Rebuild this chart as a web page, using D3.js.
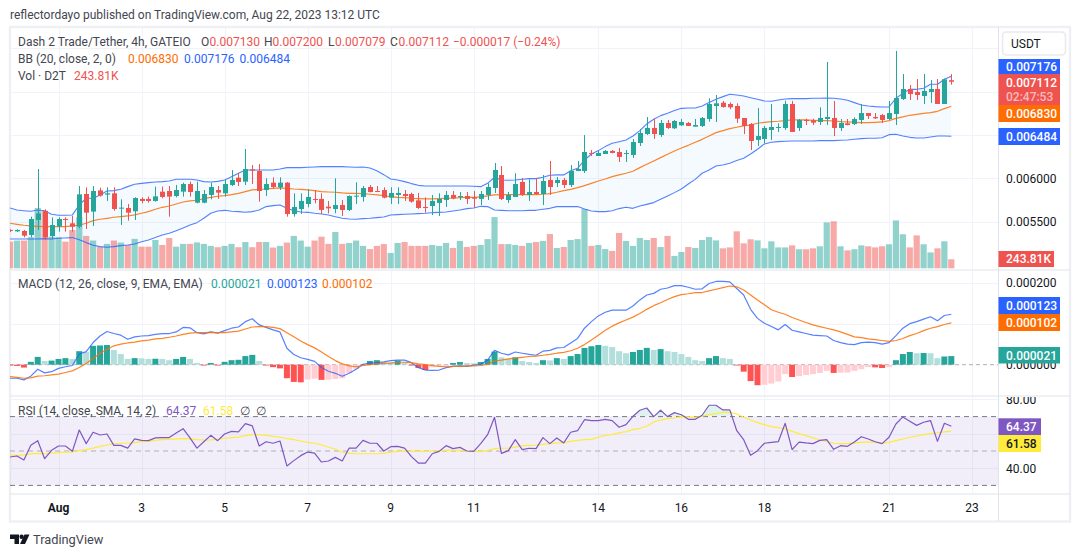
<!DOCTYPE html>
<html><head><meta charset="utf-8">
<script src="https://cdn.jsdelivr.net/npm/d3@7"></script>
<style>html,body{margin:0;padding:0;background:#fff}svg{display:block}text{font-family:Roboto,sans-serif}</style>
</head><body><svg id="c" width="1080" height="557"></svg>
<script>
// All prices / MACD values are in millionths of a USDT. Index 0 = Aug 1 00:00; one bar = 4h.
const firstIndex=-7;
const opens=[5405,5389,5393,5347,5520,5623,5335,5443,5531,5481,5443,5819,5616,5861,5812,5827,5654,5658,5620,5762,5762,5739,5846,5854,5796,5846,5934,5719,5719,5808,5865,5827,5923,6007,5961,6103,6084,5865,5950,5896,5950,5589,5646,5704,5762,5762,5673,5646,5692,5635,5792,5785,5900,5854,5865,5777,5808,5819,5819,5746,5670,5681,5716,5750,5808,5789,5796,5781,5762,5808,5888,6038,5750,5785,5958,5808,5842,5819,5981,5946,5981,5923,6084,6084,6292,6257,6280,6315,6303,6284,6269,6407,6510,6580,6499,6637,6576,6610,6637,6595,6603,6683,6833,6871,6856,6833,6695,6626,6442,6453,6557,6580,6580,6856,6580,6672,6668,6649,6683,6695,6580,6633,6625,6672,6752,6706,6729,6683,6741,6914,7029,6994,6948,6994,7029,6856,7130];
const highs=[5412,5412,5405,5558,6107,5642,5550,5550,5550,5566,5911,5896,5911,5892,5896,5896,5758,5704,5781,5781,5789,5904,5904,5911,5923,5950,5961,5961,5865,5950,5911,5981,6096,6058,6338,6153,6165,6000,6011,6011,5957,5827,5827,5873,5865,5827,5739,6000,5750,5804,5953,5911,5923,5911,5896,5896,5896,5865,5835,5831,5781,5808,5827,5854,5854,5842,5842,5854,5854,5942,6176,6142,5842,6058,6004,5988,6004,6038,6200,6015,6004,6153,6200,6499,6326,6315,6326,6326,6349,6326,6453,6568,6706,6683,6672,6672,6672,6683,6649,6683,6706,6921,6960,6891,6875,6864,6695,6637,6810,6603,6856,6633,6894,6891,6683,6687,6687,6818,7340,6891,6683,6683,6702,6856,6752,6752,6741,6891,7467,7202,7075,7144,7202,7132,7144,7148,7200];
const lows=[5382,5382,5320,5320,5405,5289,5297,5385,5385,5385,5424,5416,5451,5789,5739,5627,5462,5512,5520,5712,5719,5731,5769,5558,5781,5789,5789,5712,5712,5758,5762,5789,5911,5911,5923,5934,5731,5796,5881,5865,5558,5558,5589,5666,5712,5589,5596,5596,5566,5623,5704,5731,5838,5842,5769,5704,5704,5739,5719,5646,5604,5577,5566,5670,5758,5750,5704,5658,5692,5750,5831,5750,5716,5785,5796,5739,5808,5692,5808,5900,5888,5900,6084,6061,6257,6257,6280,6288,6188,6188,6234,6372,6499,6453,6476,6568,6568,6603,6603,6595,6591,6653,6649,6814,6795,6637,6510,6326,6372,6403,6442,6534,6557,6534,6545,6614,6614,6614,6614,6487,6545,6610,6614,6626,6683,6683,6637,6672,6614,6902,6902,6902,6856,6868,6856,6856,7079];
const closes=[5393,5405,5339,5531,5596,5320,5462,5531,5520,5443,5815,5604,5854,5800,5827,5646,5662,5604,5773,5739,5739,5792,5785,5789,5865,5934,5842,5854,5819,5900,5835,5934,5981,5958,6107,6088,5854,5934,5900,5950,5589,5670,5739,5785,5750,5635,5654,5692,5635,5796,5800,5888,5842,5846,5777,5831,5831,5796,5731,5658,5658,5739,5762,5808,5769,5796,5762,5765,5819,5900,6096,5762,5808,5934,5808,5842,5819,5969,5900,5981,5923,6084,6107,6303,6284,6292,6315,6292,6246,6292,6418,6522,6580,6510,6637,6580,6660,6649,6603,6614,6695,6856,6864,6821,6818,6687,6603,6430,6487,6580,6591,6591,6856,6534,6672,6660,6641,6695,6706,6580,6637,6614,6683,6752,6718,6691,6672,6752,6925,7029,6971,6960,7006,7029,6856,7140,7112];
const volumes=[720,750,750,840,1630,1560,855,840,720,1035,1380,875,750,585,660,750,695,630,795,585,585,765,630,820,585,660,660,700,660,605,570,605,660,570,710,570,710,710,560,605,695,875,750,585,750,855,660,980,660,685,750,605,520,605,655,415,685,710,605,605,605,630,605,685,550,740,575,605,630,790,1385,655,655,630,605,685,710,740,925,550,575,765,790,1600,605,630,520,470,955,740,605,820,765,820,575,875,335,440,575,550,765,845,755,540,565,1000,675,785,755,540,730,565,565,620,515,515,540,595,1240,1270,595,485,515,620,595,565,595,650,1295,920,565,890,650,430,540,730,243.81];
const bbUpper=[5658,5635,5627,5620,5635,5627,5585,5574,5574,5578,5693,5770,5770,5808,5854,5858,5873,5904,5931,5942,5950,5958,5962,5969,5989,5989,5989,5981,5962,5958,5965,5981,6019,6058,6096,6096,6096,6096,6096,6108,6123,6123,6123,6127,6131,6134,6134,6134,6134,6131,6127,6131,6119,6088,6042,5992,5981,5962,5939,5919,5912,5912,5912,5912,5912,5912,5912,5908,5904,5942,6012,5981,5977,5981,5989,5996,5996,6012,6035,6039,6039,6088,6115,6211,6280,6319,6365,6403,6422,6442,6488,6549,6626,6680,6722,6749,6780,6806,6810,6810,6833,6872,6910,6941,6968,6960,6949,6929,6910,6891,6887,6902,6914,6918,6918,6918,6922,6922,6925,6922,6914,6899,6872,6845,6833,6826,6822,6822,6922,6979,7025,7025,7037,7083,7083,7141,7176];
const bbBasis=[5482,5470,5459,5451,5447,5443,5443,5443,5443,5451,5459,5482,5512,5528,5539,5551,5558,5566,5578,5597,5616,5643,5666,5681,5704,5727,5739,5747,5766,5781,5793,5800,5812,5827,5846,5866,5873,5877,5885,5889,5885,5877,5873,5866,5858,5846,5842,5839,5831,5827,5827,5823,5816,5808,5800,5789,5781,5777,5770,5766,5762,5762,5766,5770,5770,5777,5781,5781,5785,5797,5808,5812,5812,5812,5812,5812,5812,5816,5823,5839,5858,5873,5893,5916,5942,5969,5992,6019,6039,6058,6081,6123,6161,6200,6238,6277,6315,6349,6380,6415,6449,6488,6526,6549,6572,6588,6603,6614,6634,6645,6653,6657,6664,6672,6672,6672,6668,6664,6664,6660,6653,6649,6645,6641,6641,6645,6649,6664,6691,6707,6726,6737,6749,6757,6772,6803,6830];
const bbLower=[5301,5301,5301,5301,5301,5305,5301,5309,5313,5317,5293,5259,5228,5213,5205,5213,5224,5232,5244,5270,5290,5317,5347,5366,5397,5428,5462,5489,5539,5597,5624,5631,5620,5616,5608,5616,5635,5674,5685,5693,5654,5627,5612,5608,5597,5589,5578,5558,5539,5531,5528,5535,5539,5547,5555,5578,5581,5585,5589,5593,5597,5604,5608,5612,5624,5635,5651,5658,5677,5674,5635,5631,5627,5627,5627,5631,5631,5643,5654,5674,5674,5674,5674,5647,5624,5616,5616,5627,5651,5666,5654,5681,5700,5720,5758,5796,5835,5877,5935,5988,6058,6096,6142,6154,6173,6204,6230,6280,6334,6396,6415,6422,6426,6430,6430,6430,6430,6434,6434,6434,6438,6442,6449,6457,6461,6461,6468,6503,6507,6488,6472,6465,6465,6476,6488,6488,6484];
const macdLine=[-33,-33,-37,-28,-11,-20,-17,-9,-5,-2,26,32,54,70,81,76,72,62,68,70,71,74,76,76,80,91,90,78,75,80,77,83,89,92,105,112,97,91,85,80,40,25,17,13,8,-7,-16,-21,-28,-21,-11,1,4,5,7,10,11,11,5,-7,-13,-14,-13,-7,-4,-3,-4,-1,1,11,35,28,24,31,28,25,23,33,35,41,42,53,64,89,105,119,128,133,133,133,143,158,170,174,184,187,193,193,189,184,185,198,203,203,202,186,170,135,113,101,93,85,98,84,80,76,72,71,70,59,54,50,49,54,55,54,50,54,71,89,100,105,111,117,107,120,123];
const macdSignal=[-29,-31,-33,-32,-28,-27,-25,-23,-19,-15,-7,3,15,28,37,46,50,53,55,58,60,63,64,67,70,74,77,78,78,79,78,78,80,82,87,92,93,93,91,88,78,68,58,49,41,31,20,10,2,-3,-5,-2,0,2,3,4,6,6,5,2,0,-2,-4,-5,-4,-4,-3,-3,-2,1,9,11,14,16,18,20,21,23,25,28,30,34,40,49,60,72,84,94,102,109,116,125,135,144,151,159,166,171,173,176,176,180,184,188,192,190,182,170,158,146,134,128,123,115,109,103,97,93,89,85,80,74,68,66,63,61,59,57,59,64,71,76,83,89,93,98,102];
const macdHist=[-2,-3,-7,7,19,9,10,14,16,14,33,31,46,47,48,36,26,14,16,15.5,14,14.5,14,11,14,19,14,4,-2,4,-2,7,11,12,21,24,9,-2,-6,-9,-33,-42,-43,-36,-34,-37,-36.5,-35,-33,-20,-10,-3,9,11,6.5,6,10,5,-2,-8,-13,-6.5,-5,-3,4,6.5,4,3.5,6.5,14,32,18,14,18,9,6.5,4,11,10.5,16,14,21,26,41,45,48,46,43,33,28,31,36,41,36,38,33,31,26,19,11,9,16,21,16,14,-2,-17,-40,-50,-49,-46,-41,-23,-30,-28,-25,-23,-20,-15,-20,-19.5,-19,-15,-11,-6,-6.5,-8,-6,11,26,31,28,28.5,28,16,20,21];
const rsiLine=[46.5,47.1,44.8,53.3,56,45.5,50.4,52.9,52.9,49.8,62.2,54.3,60.9,59.3,59.9,53.3,53.3,51.7,57,56.2,56,57.6,57.8,57.8,60.5,63,57.6,51.7,55.4,59.1,56,59.9,61.4,61.1,65.9,64.6,52.9,55.4,54.5,55.8,41.3,44.4,47.3,49.4,48.8,43.6,44.2,46.3,44.2,51.7,51.7,56.2,54.5,54.5,50,52.5,52.7,51.7,46.7,43,43,48.4,49.8,53.1,51.4,52.1,50,49.8,54.3,59.5,69.6,48.6,50.2,56.6,50.8,51.6,51.4,57.8,54.3,57.6,54.7,60.9,61.8,68.2,67.7,67.7,68.4,67.7,63.8,65.3,70.2,73.7,75,70,73.7,70,72.3,71.1,68.4,68.4,70.8,76.6,76.6,73.9,73.9,61.8,56.6,47.5,50.2,54.5,55,55.4,66.1,50.8,55.2,54.7,54.3,56.2,56.6,51,53.1,52.7,55.2,58.3,57,55.4,54.3,58,65.7,69.8,67.3,64.9,66.7,67.7,55.6,66.1,64.37];
const rsiAverage=[47.7,47.3,47.7,48.3,48.6,48.4,48.8,49,49.4,49.4,50.2,50.8,51.7,52.7,53.5,54.1,54.5,54.5,54.9,55.4,55.6,56.2,56.6,56.8,57,57.2,57,56.6,56.4,56.4,56.8,57.4,57.8,58.1,58.9,59.5,59.5,59.1,58.5,58,57.2,56.6,55.8,55,54.5,53.5,52.3,51,49.4,48.6,48.4,48.4,48.4,48.4,48.6,49.4,49.8,49.8,49.8,49.8,49.8,50,50.2,50.4,50.4,50.2,50,49.8,49.6,50.2,51.4,51.6,51.6,52.3,53.1,53.3,53.5,53.9,54.3,54.7,54.9,55.6,56.2,56.6,56.8,58,59.1,59.7,60.5,61.3,62.4,63.2,64.4,66.9,68,68.8,69.2,70,69.8,69.6,70.2,71.1,71.7,72.5,72.5,71.5,69.6,68,66.5,65.3,64.2,63.6,62.8,61.4,60.1,58.9,57.6,56.4,55.4,54.5,54.3,54.3,54.7,55,55.2,55.2,54.5,55,56,57,58,58.7,59.5,60.1,60.6,61.1,61.58];
const dateTickIndex=[0,12,24,36,48,60,78,90,102,120,132];
const dateTickLabels=["Aug","3","5","7","9","11","14","16","18","21","23"];
const priceTicks=[5500,6000,7000,6500,7500];
const priceLabels=["0.005500","0.006000"];
const macdTicks=[100,200];
const rsiTicks=[40,60,80];
const legendSymbol="Dash 2 Trade/Tether, 4h, GATEIO";
const headerText="reflectordayo published on TradingView.com, Aug 22, 2023 13:12 UTC";

[highs,lows,closes,volumes,bbUpper,bbBasis,bbLower,macdLine,macdSignal,macdHist,rsiLine,rsiAverage].forEach((a,k)=>{
  if(a.length!==opens.length) throw new Error("length mismatch "+k+": "+a.length+" vs "+opens.length);
});

const UP="#26a69a",DOWN="#ef5350",BLUE="#2962ff",ORANGE="#ff6d00",PURPLE="#7e57c2",YELLOW="#ffeb3b",GRID="#f0f3fa",INK="#131722",LEG="#434651";
const L=10,R=998,OUTER=1070;
const bars=opens.map((o,i)=>({i:i+firstIndex,o,h:highs[i],l:lows[i],c:closes[i],v:volumes[i],up:closes[i]>=o,
  bu:bbUpper[i],bm:bbBasis[i],bl:bbLower[i],m:macdLine[i],s:macdSignal[i],hist:macdHist[i],prevHist:i?macdHist[i-1]:0,r:rsiLine[i],ra:rsiAverage[i]}));

const x=d3.scaleLinear().domain([0,129]).range([58.5,951.3]);
const yP=d3.scaleLinear().domain([5500,7500]).range([221.7,48.1]);
const yV=d3.scaleLinear().domain([0,1630]).range([268.3,208]);
const yM=d3.scaleLinear().domain([0,200]).range([364.7,282.7]);
const yR=d3.scaleLinear().domain([30,70]).range([485.4,416.6]);

const svg=d3.select("#c");
const defs=svg.append("defs");
function clip(id,y0,y1){defs.append("clipPath").attr("id",id).append("rect").attr("x",L).attr("y",y0).attr("width",R-L).attr("height",y1-y0);}
clip("cp",27,269);clip("cm",271,395);clip("cr",397,493);
defs.append("clipPath").attr("id","axr").append("rect").attr("x",R).attr("y",397).attr("width",OUTER-R).attr("height",96);
defs.append("clipPath").attr("id","above70").append("rect").attr("x",L).attr("y",397).attr("width",R-L).attr("height",yR(70)-397);

// frame and dividers
svg.append("rect").attr("x",10).attr("y",27).attr("width",1060).attr("height",494.5).attr("fill","#fff").attr("stroke","#eef0f6").attr("stroke-width",2.4);
function hline(y,x0,x1,c,w){svg.append("line").attr("x1",x0).attr("x2",x1).attr("y1",y).attr("y2",y).attr("stroke",c).attr("stroke-width",w||1);}

// grids
const gridV=svg.append("g");
dateTickIndex.forEach(t=>{
  [[27,269],[271,395],[397,493]].forEach(([a,b])=>gridV.append("line").attr("x1",Math.round(x(t))+.5).attr("x2",Math.round(x(t))+.5).attr("y1",a).attr("y2",b).attr("stroke",GRID));
});
priceTicks.forEach(t=>hline(Math.round(yP(t))+.5,L,R,GRID));
macdTicks.forEach(t=>hline(Math.round(yM(t))+.5,L,R,GRID));
rsiTicks.forEach(t=>hline(Math.round(yR(t))+.5,L,R,GRID));

// --- main pane ---
const gp=svg.append("g").attr("clip-path","url(#cp)");
gp.selectAll("rect.vol").data(bars).join("rect").attr("class","vol")
  .attr("x",d=>x(d.i)-3.1).attr("width",6.2).attr("y",d=>yV(d.v)).attr("height",d=>yV(0)-yV(d.v))
  .attr("fill",d=>d.up?UP:DOWN).attr("fill-opacity",.5);
gp.append("path").datum(bars).attr("fill","#2196f3").attr("fill-opacity",.05)
  .attr("d",d3.area().x(d=>x(d.i)).y0(d=>yP(d.bl)).y1(d=>yP(d.bu)));
const ln=(g,key,scale,col,w)=>g.append("path").datum(bars).attr("fill","none").attr("stroke",col).attr("stroke-width",w).attr("stroke-linejoin","round")
  .attr("d",d3.line().x(d=>x(d.i)).y(d=>scale(d[key])));
ln(gp,"bm",yP,ORANGE,1.2).attr("stroke-opacity",.85);
ln(gp,"bu",yP,BLUE,1.1).attr("stroke-opacity",.8);
ln(gp,"bl",yP,BLUE,1.1).attr("stroke-opacity",.8);
gp.selectAll("line.wick").data(bars).join("line").attr("class","wick")
  .attr("x1",d=>Math.round(x(d.i))+.5).attr("x2",d=>Math.round(x(d.i))+.5).attr("y1",d=>yP(d.h)).attr("y2",d=>yP(d.l))
  .attr("stroke",d=>d.up?UP:DOWN);
gp.selectAll("rect.body").data(bars).join("rect").attr("class","body")
  .attr("x",d=>Math.round(x(d.i))-2).attr("width",5)
  .attr("y",d=>yP(Math.max(d.o,d.c))).attr("height",d=>Math.max(1,Math.abs(yP(d.o)-yP(d.c))))
  .attr("fill",d=>d.up?UP:DOWN);

// --- MACD pane ---
const gm=svg.append("g").attr("clip-path","url(#cm)");
gm.append("line").attr("x1",L).attr("x2",R).attr("y1",yM(0)).attr("y2",yM(0)).attr("stroke","#787b86").attr("stroke-opacity",.6).attr("stroke-dasharray","4 3");
gm.selectAll("rect.h").data(bars).join("rect").attr("class","h")
  .attr("x",d=>x(d.i)-3).attr("width",6)
  .attr("y",d=>Math.min(yM(0),yM(d.hist))).attr("height",d=>Math.abs(yM(d.hist)-yM(0)))
  .attr("fill",d=>d.hist>=0?(d.hist>=d.prevHist?UP:"#b2dfdb"):(d.hist<d.prevHist?"#ff5252":"#ffcdd2"));
ln(gm,"m",yM,BLUE,1.2).attr("stroke-opacity",.8);
ln(gm,"s",yM,ORANGE,1.2).attr("stroke-opacity",.85);

// --- RSI pane ---
const gr=svg.append("g").attr("clip-path","url(#cr)");
gr.append("rect").attr("x",L).attr("width",R-L).attr("y",yR(70)).attr("height",yR(30)-yR(70)).attr("fill",PURPLE).attr("fill-opacity",.1);
[70,50,30].forEach(v=>gr.append("line").attr("x1",L).attr("x2",R).attr("y1",yR(v)).attr("y2",yR(v))
  .attr("stroke","#787b86").attr("stroke-opacity",v===50?.55:1).attr("stroke-dasharray","5 4"));
gr.append("path").datum(bars).attr("clip-path","url(#above70)").attr("fill","#089981").attr("fill-opacity",.13)
  .attr("d",d3.area().x(d=>x(d.i)).y0(yR(70)).y1(d=>yR(d.r)));
ln(gr,"ra",yR,YELLOW,1.2);
ln(gr,"r",yR,PURPLE,1.2);

// dividers
hline(270,L,OUTER,"#e0e3eb",1.2);hline(396,L,OUTER,"#e0e3eb",1.2);hline(494,L,OUTER,"#e0e3eb",1.2);
svg.append("line").attr("x1",998.5).attr("x2",998.5).attr("y1",27).attr("y2",521).attr("stroke","#e0e3eb");

// time axis
dateTickIndex.forEach((t,k)=>svg.append("text").attr("x",x(t)).attr("y",512).attr("text-anchor","middle").attr("font-size",12)
  .attr("font-weight",k===0?700:400).attr("fill",INK).text(dateTickLabels[k]));

// axis labels
const axisText=(y,s,clipId)=>{const t=svg.append("text").attr("x",1006).attr("y",y+4.3).attr("font-size",12).attr("fill",INK).text(s);if(clipId)t.attr("clip-path",`url(#${clipId})`);};
priceLabels.forEach((s,k)=>axisText(yP([5500,6000][k]),s));
axisText(yM(200),"0.000200");
axisText(yM(0),"0.000000");
axisText(yR(80),"80.00","axr");
axisText(yR(40),"40.00");
function tag(y0,y1,w,col,txt,tc){svg.append("rect").attr("x",998.5).attr("y",y0).attr("width",w).attr("height",y1-y0).attr("fill",col);
  if(txt)svg.append("text").attr("x",1006).attr("y",(y0+y1)/2+4.3).attr("font-size",12).attr("font-weight",500).attr("fill",tc||"#fff").text(txt);}
tag(59,74,61.5,BLUE,"0.007176");
tag(74,105,61.5,DOWN);
svg.append("text").attr("x",1006).attr("y",86.8).attr("font-size",12).attr("font-weight",500).attr("fill","#fff").text("0.007112");
svg.append("text").attr("x",1006).attr("y",100.8).attr("font-size",12).attr("font-weight",500).attr("fill","#fff").attr("fill-opacity",.6).text("02:47:53");
tag(105,122,61.5,ORANGE,"0.006830");
tag(128,145,61.5,BLUE,"0.006484");
tag(251,267,55.5,DOWN,"243.81K");
tag(297,314,61.5,BLUE,"0.000123");
tag(314,331,61.5,ORANGE,"0.000102");
tag(347,363.5,61.5,UP,"0.000021");
tag(418.3,435,42.5,PURPLE,"64.37");
tag(435,452,42.5,YELLOW,"61.58",INK);

// USDT button
svg.append("rect").attr("x",1002.5).attr("y",32).attr("width",63).attr("height",23).attr("rx",4).attr("fill","#fff").attr("stroke","#e8eaf0").attr("stroke-width",1.6);
svg.append("text").attr("x",1011).attr("y",47.5).attr("font-size",12).attr("fill",INK).text("USDT");

// legends
function leg(y,items){items.forEach(([xx,s,c])=>svg.append("text").attr("x",xx).attr("y",y).attr("font-size",12).attr("fill",c||LEG).text(s));}
svg.append("text").attr("x",10).attr("y",19).attr("font-size",12).attr("fill",LEG).text(headerText);
leg(46,[[18,legendSymbol],[201,"O"],[209.5,"0.007130",DOWN],[264,"H"],[272.5,"0.007200",DOWN],[328,"L"],[335,"0.007079",DOWN],[390,"C"],[398.5,"0.007112",DOWN],[453,"−0.000017 (−0.24%)",DOWN]]);
leg(63,[[18,"BB (20, close, 2, 0)"],[128,"0.006830",ORANGE],[184,"0.007176",BLUE],[239.5,"0.006484",BLUE]]);
leg(80,[[18,"Vol · D2T"],[74,"243.81K",DOWN]]);
leg(288,[[18,"MACD (12, 26, close, 9, EMA, EMA)"],[211,"0.000021",UP],[267,"0.000123",BLUE],[322,"0.000102",ORANGE]]);
leg(415,[[18,"RSI (14, close, SMA, 14, 2)"],[166,"64.37",PURPLE],[203,"61.58",YELLOW],[240,"∅"],[256,"∅"]]);

// footer logo
const logo=svg.append("g").attr("fill",INK);
logo.append("path").attr("d","M10 534.5H19V544H14.5V539H10Z");
logo.append("circle").attr("cx",21.6).attr("cy",536.8).attr("r",2.2);
logo.append("path").attr("d","M24.5 534.5H29.5L25 544H20Z");
svg.append("text").attr("x",33).attr("y",543.5).attr("font-size",12.8).attr("fill",LEG).text("TradingView");
</script></body></html>
